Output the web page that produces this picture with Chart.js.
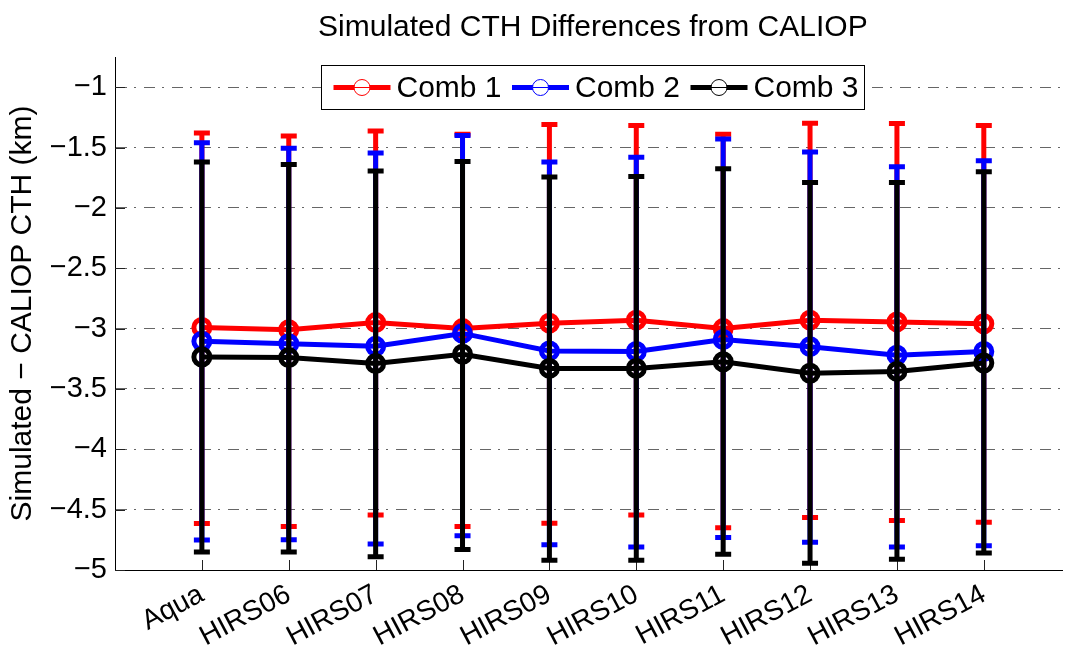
<!DOCTYPE html>
<html>
<head>
<meta charset="utf-8">
<title>Simulated CTH Differences from CALIOP</title>
<script src="https://cdn.jsdelivr.net/npm/chart.js@4.4.1/dist/chart.umd.min.js"></script>
<style>
  html, body { margin: 0; padding: 0; background: #fff; overflow: hidden; }
</style>
</head>
<body>
<canvas id="cthChart" width="1075" height="647"></canvas>
<script>
// categories and tick values
const categories = ['Aqua', 'HIRS06', 'HIRS07', 'HIRS08', 'HIRS09', 'HIRS10', 'HIRS11', 'HIRS12', 'HIRS13', 'HIRS14'];
const yTicks = [-5, -4.5, -4, -3.5, -3, -2.5, -2, -1.5, -1];

// Comb 1 (red)
const comb1 = [-2.99, -3.01, -2.95, -3.0, -2.955, -2.93, -3.0, -2.93, -2.945, -2.96];
const comb1Upper = [-1.38, -1.405, -1.364, -1.39, -1.31, -1.317, -1.39, -1.298, -1.30, -1.317];
const comb1Lower = [-4.614, -4.64, -4.545, -4.64, -4.612, -4.545, -4.65, -4.565, -4.59, -4.605];

// Comb 2 (blue)
const comb2 = [-3.105, -3.125, -3.147, -3.04, -3.185, -3.19, -3.09, -3.15, -3.22, -3.19];
const comb2Upper = [-1.46, -1.505, -1.546, -1.40, -1.62, -1.58, -1.43, -1.538, -1.66, -1.61];
const comb2Lower = [-4.752, -4.75, -4.785, -4.716, -4.79, -4.81, -4.73, -4.77, -4.81, -4.80];

// Comb 3 (black)
const comb3 = [-3.235, -3.24, -3.29, -3.213, -3.33, -3.33, -3.275, -3.37, -3.355, -3.285];
const comb3Upper = [-1.62, -1.64, -1.695, -1.615, -1.745, -1.74, -1.675, -1.79, -1.79, -1.70];
const comb3Lower = [-4.85, -4.85, -4.89, -4.83, -4.92, -4.92, -4.87, -4.945, -4.91, -4.86];

const FONT = "'Liberation Sans', Arial, Helvetica, sans-serif";
const errors = [[comb1Lower, comb1Upper], [comb2Lower, comb2Upper], [comb3Lower, comb3Upper]];

function toPoints(values) {
    return values.map((v, i) => ({ x: i + 1, y: v }));
}

function makeDataset(label, values, color, order) {
    return {
        label: label,
        data: toPoints(values),
        borderColor: color,
        backgroundColor: color,
        borderWidth: 5,
        pointRadius: 8,
        pointHoverRadius: 8,
        pointBorderWidth: 5,
        pointBorderColor: color,
        pointBackgroundColor: 'rgba(0,0,0,0)',
        tension: 0,
        order: order
    };
}

// error bars drawn just before each series' own line
const errorBars = {
    id: 'errorBars',
    beforeDatasetDraw(chart, args) {
        const ds = chart.data.datasets[args.index];
        const [lower, upper] = errors[args.index];
        const xs = chart.scales.x;
        const ys = chart.scales.y;
        const ctx = chart.ctx;
        ctx.save();
        ctx.strokeStyle = ds.borderColor;
        ctx.lineWidth = 5;
        upper.forEach((hi, i) => {
            const px = xs.getPixelForValue(i + 1);
            const top = ys.getPixelForValue(hi);
            const bot = ys.getPixelForValue(lower[i]);
            ctx.beginPath();
            ctx.moveTo(px, top);
            ctx.lineTo(px, bot);
            ctx.moveTo(px - 8, top);
            ctx.lineTo(px + 8, top);
            ctx.moveTo(px - 8, bot);
            ctx.lineTo(px + 8, bot);
            ctx.stroke();
        });
        ctx.restore();
    }
};

// inward tick marks (matlab style)
const innerTicks = {
    id: 'innerTicks',
    beforeDatasetsDraw(chart) {
        const { ctx, chartArea, scales } = chart;
        ctx.save();
        ctx.strokeStyle = '#222';
        ctx.lineWidth = 1;
        ctx.beginPath();
        scales.y.ticks.forEach(t => {
            const py = Math.round(scales.y.getPixelForValue(t.value)) + 0.5;
            ctx.moveTo(chartArea.left, py);
            ctx.lineTo(chartArea.left + 10, py);
        });
        scales.x.ticks.forEach(t => {
            const px = Math.round(scales.x.getPixelForValue(t.value)) + 0.5;
            ctx.moveTo(px, chartArea.bottom);
            ctx.lineTo(px, chartArea.bottom - 10);
        });
        ctx.stroke();
        ctx.restore();
    }
};

// title and legend centred over the axes
const titleAndLegend = {
    id: 'titleAndLegend',
    afterDraw(chart) {
        const ctx = chart.ctx;
        const cx = chart.scales.x.getPixelForValue(5.5);
        ctx.save();
        ctx.fillStyle = '#000';
        ctx.font = '30px ' + FONT;
        ctx.textAlign = 'center';
        ctx.textBaseline = 'alphabetic';
        ctx.fillText('Simulated CTH Differences from CALIOP', cx, 36);

        // legend box
        const w = 543, h = 44, top = 65;
        const left = Math.round(cx - w / 2) + 0.5;
        ctx.fillStyle = '#fff';
        ctx.fillRect(left, top + 0.5, w, h);
        ctx.strokeStyle = '#000';
        ctx.lineWidth = 1;
        ctx.strokeRect(left, top + 0.5, w, h);

        const midY = top + h / 2 + 0.5;
        chart.data.datasets.forEach((ds, i) => {
            const lx = left + 12 + i * 178.5;
            ctx.strokeStyle = ds.borderColor;
            ctx.lineWidth = 5;
            ctx.beginPath();
            ctx.moveTo(lx, midY);
            ctx.lineTo(lx + 57, midY);
            ctx.stroke();
            ctx.fillStyle = '#fff';
            ctx.lineWidth = 1;
            ctx.beginPath();
            ctx.arc(lx + 28.5, midY, 8, 0, Math.PI * 2);
            ctx.fill();
            ctx.stroke();
            ctx.beginPath();
            ctx.moveTo(lx + 20.5, midY);
            ctx.lineTo(lx + 36.5, midY);
            ctx.stroke();
            ctx.fillStyle = '#000';
            ctx.font = '30px ' + FONT;
            ctx.textAlign = 'left';
            ctx.textBaseline = 'middle';
            ctx.fillText(ds.label, lx + 63, midY + 1);
        });
        ctx.restore();
    }
};

new Chart(document.getElementById('cthChart'), {
    type: 'line',
    data: {
        datasets: [
            makeDataset('Comb 1', comb1, '#ff0000', 3),
            makeDataset('Comb 2', comb2, '#0000ff', 2),
            makeDataset('Comb 3', comb3, '#000000', 1)
        ]
    },
    options: {
        responsive: false,
        animation: false,
        events: [],
        layout: { padding: { top: 57, right: 0, bottom: 0, left: 0 } },
        plugins: {
            legend: { display: false },
            title: { display: false },
            tooltip: { enabled: false }
        },
        scales: {
            x: {
                type: 'linear',
                min: 0,
                max: 10.9,
                afterBuildTicks: s => { s.ticks = categories.map((c, i) => ({ value: i + 1 })); },
                afterFit: s => { s.height = 77; s.paddingLeft = 0; s.paddingRight = 0; },
                grid: { display: false, drawTicks: false },
                border: { display: true, color: '#000', width: 1 },
                ticks: {
                    autoSkip: false,
                    minRotation: 28,
                    maxRotation: 28,
                    padding: 8,
                    color: '#000',
                    font: { family: FONT, size: 28 },
                    callback: v => categories[v - 1]
                }
            },
            y: {
                type: 'linear',
                min: -5,
                max: -0.75,
                afterBuildTicks: s => { s.ticks = yTicks.map(v => ({ value: v })); },
                afterFit: s => { s.width = 115; s.paddingTop = 0; s.paddingBottom = 0; },
                grid: {
                    color: c => (c.tick && c.tick.value === -5) ? 'rgba(0,0,0,0)' : '#666',
                    lineWidth: 1,
                    drawTicks: false
                },
                border: { display: true, color: '#000', width: 1, dash: [11, 7, 2, 8] },
                ticks: {
                    padding: 8,
                    color: '#000',
                    font: { family: FONT, size: 29 },
                    callback: v => String(v).replace('-', '\u2212')
                },
                title: {
                    display: true,
                    text: 'Simulated \u2212 CALIOP CTH (km)',
                    color: '#000',
                    font: { family: FONT, size: 30 },
                    padding: { top: 5, bottom: 0 }
                }
            }
        }
    },
    plugins: [errorBars, innerTicks, titleAndLegend]
});
</script>
</body>
</html>
